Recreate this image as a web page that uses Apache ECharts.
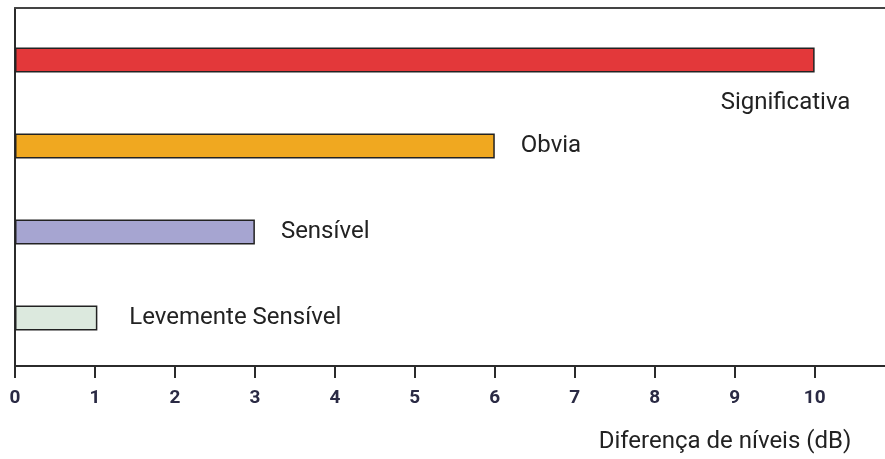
<!DOCTYPE html>
<html>
<head>
<meta charset="utf-8">
<script src="https://cdn.jsdelivr.net/npm/echarts@6/dist/echarts.min.js"></script>
<style>
  html, body { margin: 0; padding: 0; background: #fff; }
  #BarChart { width: 885px; height: 459px; }
</style>
</head>
<body>
<div id="BarChart"></div>
<script>
// categories bottom -> top (category axis runs upward)
const categories = ["Levemente Sensível", "Sensível", "Obvia", "Significativa"];
const values = [1.03, 3, 6, 10];
const barColors = ["#dce9de", "#a6a5d1", "#f0a820", "#e3383a"];
const tickLabels = ["0", "1", "2", "3", "4", "5", "6", "7", "8", "9", "10"];
const axisTitle = "Diferença de níveis (dB)";

const labelFont = "Roboto, 'Liberation Sans', sans-serif";
let chart;

document.addEventListener("DOMContentLoaded", () => {
  renderChart();
});

function buildBarData() {
  return values.map((value, i) => {
    const item = {
      value: value,
      itemStyle: { color: barColors[i] },
      label: { distance: 26 },
    };
    if (i === 0) item.label = { distance: 32 };
    // the top label sits below and left of its bar end
    if (i === 3) item.label = { distance: 0, offset: [-94, 43] };
    return item;
  });
}

function renderChart() {
  chart = echarts.init(document.querySelector("#BarChart"));
  chart.setOption({
    animation: false,
    grid: [
      { left: 15, right: 0, top: 17, height: 344 },
      { left: 15, right: 0, top: 8, bottom: 93 },
    ],
    xAxis: [
      { gridIndex: 0, type: "value", min: 0, max: 10.88, show: false },
      {
        gridIndex: 1,
        type: "value",
        min: 0,
        max: 10.88,
        interval: 1,
        position: "bottom",
        axisLine: { show: true, lineStyle: { color: "#2b2b2b", width: 2 } },
        axisTick: { show: true, length: 12, lineStyle: { color: "#2b2b2b", width: 2 } },
        splitLine: { show: false },
        axisLabel: {
          margin: 23,
          showMaxLabel: false,
          fontFamily: "Roboto, 'Liberation Sans', sans-serif",
          fontWeight: "bold",
          fontSize: 19,
          color: "#2a2a44",
          formatter: (v) => (Number.isInteger(v) ? tickLabels[v] : ""),
        },
        name: axisTitle,
        nameLocation: "end",
        nameGap: -160,
        nameTextStyle: {
          align: "center",
          verticalAlign: "top",
          padding: [64, 0, 0, 0],
          fontFamily: labelFont,
          fontSize: 24,
          color: "#222",
        },
      },
      {
        gridIndex: 1,
        type: "value",
        min: 0,
        max: 10.88,
        position: "top",
        axisLine: { show: true, lineStyle: { color: "#444", width: 2 } },
        axisTick: { show: false },
        axisLabel: { show: false },
        splitLine: { show: false },
      },
    ],
    yAxis: [
      {
        gridIndex: 0,
        type: "category",
        data: categories,
        show: false,
      },
      {
        gridIndex: 1,
        type: "value",
        min: 0,
        max: 1,
        axisLine: { show: true, lineStyle: { color: "#2b2b2b", width: 2 } },
        axisTick: { show: false },
        axisLabel: { show: false },
        splitLine: { show: false },
      },
    ],
    series: [
      {
        type: "bar",
        xAxisIndex: 0,
        yAxisIndex: 0,
        barWidth: 25,
        data: buildBarData(),
        itemStyle: { borderColor: "#222", borderWidth: 1.5 },
        label: {
          show: true,
          position: "right",
          formatter: (p) => categories[p.dataIndex],
          fontFamily: labelFont,
          fontSize: 24,
          color: "#222",
        },
      },
    ],
  });
}
</script>
</body>
</html>
